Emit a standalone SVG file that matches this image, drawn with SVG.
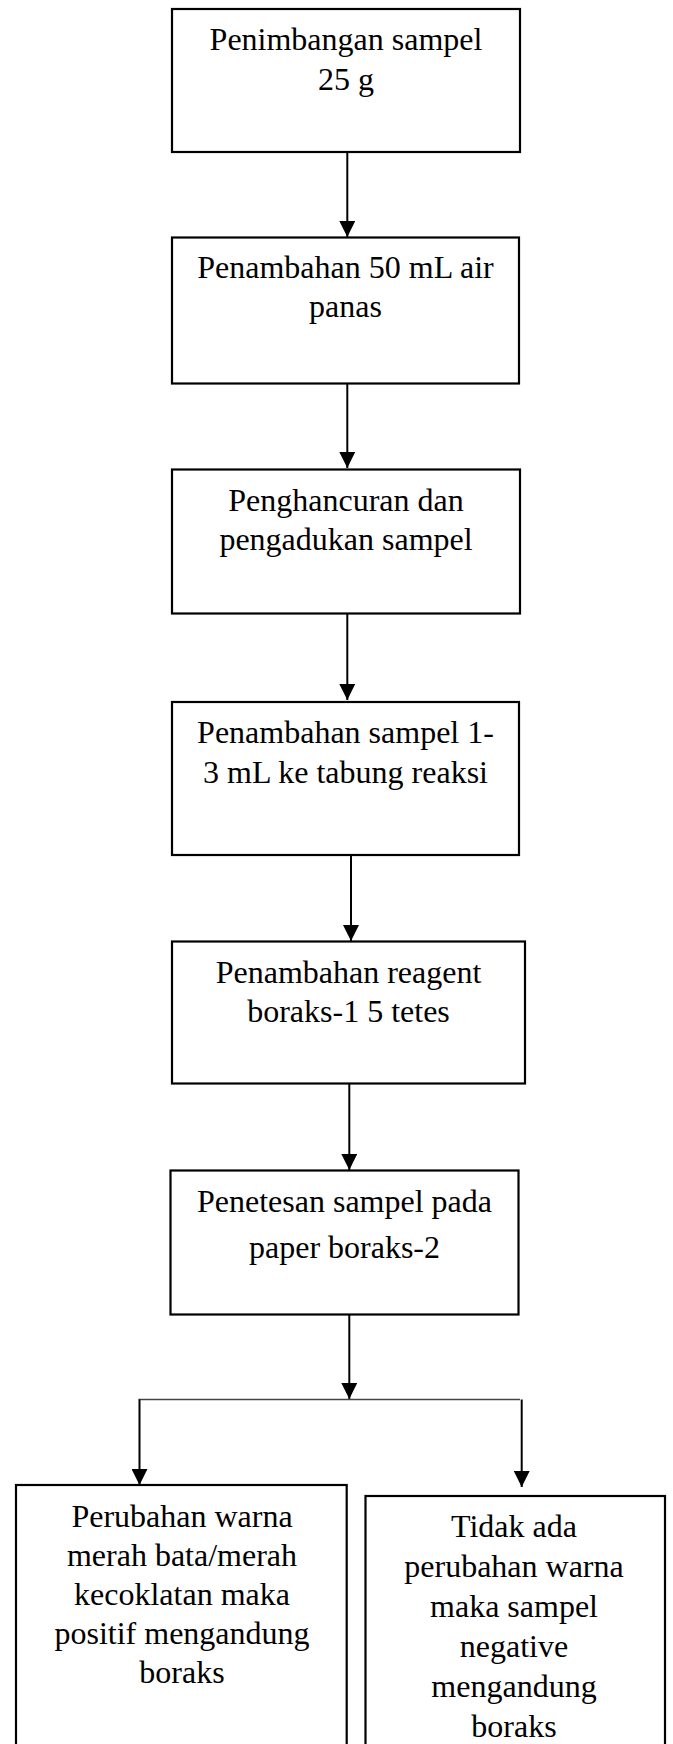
<svg xmlns="http://www.w3.org/2000/svg" width="673" height="1744" viewBox="0 0 673 1744">
<style>
.box{fill:#fff;stroke:#000;stroke-width:2.2}
.t{font-family:"Liberation Serif","Times New Roman",serif;font-size:32px;fill:#000;text-anchor:middle}
.c{stroke:#000;stroke-width:2;fill:none}
.h{stroke:#444;stroke-width:1.3;fill:none}
</style>
<defs>
<marker id="ah" markerUnits="userSpaceOnUse" markerWidth="16" markerHeight="16" viewBox="0 0 16 16" refX="16" refY="8" orient="auto">
<path d="M0,0 L16,8 L0,16 Z" fill="#000"/>
</marker>
</defs>
<rect width="673" height="1744" fill="#fff"/>
<g id="connectors">
<line class="c" x1="347.3" y1="152" x2="347.3" y2="237" marker-end="url(#ah)"/>
<line class="c" x1="347.3" y1="384" x2="347.3" y2="468" marker-end="url(#ah)"/>
<line class="c" x1="347.3" y1="614" x2="347.3" y2="700" marker-end="url(#ah)"/>
<line class="c" x1="351" y1="855" x2="351" y2="941" marker-end="url(#ah)"/>
<line class="c" x1="349.3" y1="1084" x2="349.3" y2="1170" marker-end="url(#ah)"/>
<line class="c" x1="349.3" y1="1314" x2="349.3" y2="1399" marker-end="url(#ah)"/>
<line class="h" x1="138.5" y1="1399.5" x2="520" y2="1399.5"/>
<line class="c" x1="139.5" y1="1399.5" x2="139.5" y2="1485" marker-end="url(#ah)"/>
<line class="c" x1="521.7" y1="1399.5" x2="521.7" y2="1487" marker-end="url(#ah)"/>
</g>
<g id="n1">
<rect class="box" x="172" y="9" width="348" height="143"/>
<text class="t" x="346" y="50">Penimbangan sampel</text>
<text class="t" x="346" y="90">25 g</text>
</g>
<g id="n2">
<rect class="box" x="172" y="237.5" width="347" height="146"/>
<text class="t" x="345.5" y="278">Penambahan 50 mL air</text>
<text class="t" x="345.5" y="317">panas</text>
</g>
<g id="n3">
<rect class="box" x="172" y="469.5" width="348" height="144"/>
<text class="t" x="346" y="511">Penghancuran dan</text>
<text class="t" x="346" y="550">pengadukan sampel</text>
</g>
<g id="n4">
<rect class="box" x="172" y="702" width="347" height="153"/>
<text class="t" x="345.5" y="743">Penambahan sampel 1-</text>
<text class="t" x="345.5" y="782.5">3 mL ke tabung reaksi</text>
</g>
<g id="n5">
<rect class="box" x="172" y="941.5" width="353" height="142"/>
<text class="t" x="348.5" y="983">Penambahan reagent</text>
<text class="t" x="348.5" y="1021.5">boraks-1 5 tetes</text>
</g>
<g id="n6">
<rect class="box" x="170.5" y="1170.5" width="348" height="144"/>
<text class="t" x="344.5" y="1212">Penetesan sampel pada</text>
<text class="t" x="344.5" y="1258">paper boraks-2</text>
</g>
<g id="n7">
<rect class="box" x="16" y="1485" width="330.7" height="280"/>
<text class="t" x="182" y="1527">Perubahan warna</text>
<text class="t" x="182" y="1566">merah bata/merah</text>
<text class="t" x="182" y="1605">kecoklatan maka</text>
<text class="t" x="182" y="1644">positif mengandung</text>
<text class="t" x="182" y="1683">boraks</text>
</g>
<g id="n8">
<rect class="box" x="365.5" y="1496" width="299.5" height="270"/>
<text class="t" x="514" y="1537">Tidak ada</text>
<text class="t" x="514" y="1577">perubahan warna</text>
<text class="t" x="514" y="1617">maka sampel</text>
<text class="t" x="514" y="1657">negative</text>
<text class="t" x="514" y="1697">mengandung</text>
<text class="t" x="514" y="1737">boraks</text>
</g>
</svg>
